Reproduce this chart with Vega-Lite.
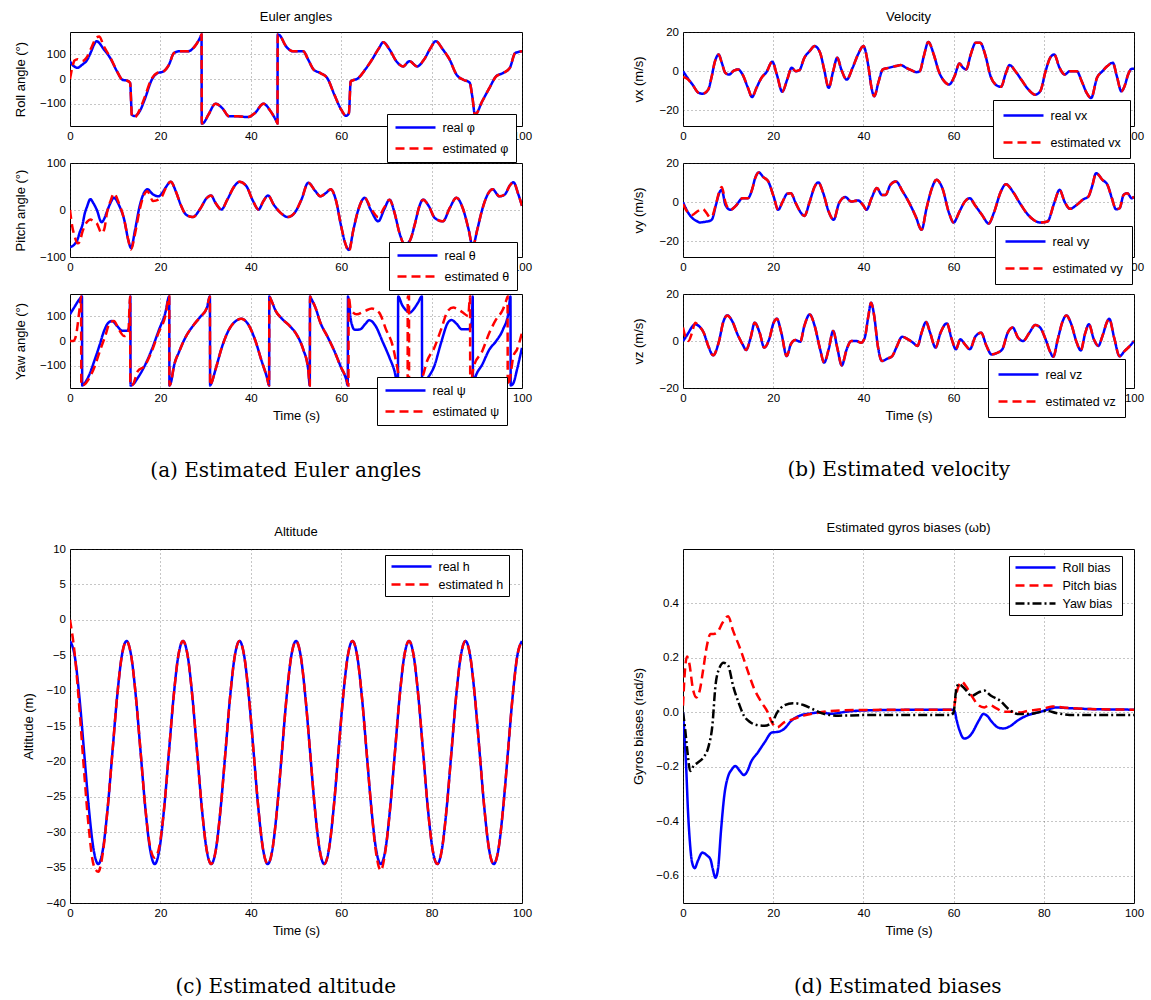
{
"$schema":"https://vega.github.io/schema/vega-lite/v6.json",
"background":"white",
"padding":{"left":13,"top":10,"right":0,"bottom":0},
"config":{
 "view":{"stroke":"black","strokeWidth":1},
 "axis":{"labelFont":"Liberation Sans","labelFontSize":11.5,"labelColor":"black","titleFont":"Liberation Sans","titleFontSize":13,"titleFontWeight":"normal","titleColor":"black","domain":false,"ticks":false,"tickSize":0,"labelPadding":4.5,"grid":true,"gridColor":"#333","gridOpacity":0.7,"gridDash":[1,3],"gridWidth":0.8,"labelFlush":false,"labelOverlap":false},
 "title":{"font":"Liberation Sans","fontSize":13,"fontWeight":"normal","color":"black"},
 "legend":{"labelFont":"Liberation Sans","labelColor":"black","labelFontSize":12.5,"strokeColor":"black","fillColor":"white","cornerRadius":0,"labelLimit":300,"symbolType":"M-1,0H7","symbolSize":100,"symbolStrokeWidth":2.5,"labelOffset":35.5}
},
"resolve":{"scale":{"color":"independent","strokeDash":"independent"},"legend":{"color":"independent","strokeDash":"independent"}},
"datasets":{
"roll":[{"t":0,"r":72,"e":0},{"t":0.5,"r":58,"e":45},{"t":1,"r":50,"e":75},{"t":1.7,"r":45,"e":80},{"t":2.5,"r":55,"e":72},{"t":3,"r":62,"e":74},{"t":3.6,"r":72,"e":85},{"t":4.7,"r":112,"e":125},{"t":5.3,"r":138,"e":150},{"t":5.9,"r":153,"e":168},{"t":6.5,"r":145,"e":172},{"t":7.4,"r":122,"e":135},{"t":8.9,"r":85,"e":88},{"t":10.4,"r":31,"e":31},{"t":11.6,"r":-3,"e":-3},{"t":12.7,"r":-7,"e":-7},{"t":13.3,"r":-16,"e":-16},{"t":13.7,"r":-145,"e":-150},{"t":14.3,"r":-150,"e":-155},{"t":15.4,"r":-131,"e":-125},{"t":16.5,"r":-84,"e":-75},{"t":18.1,"r":-3,"e":3},{"t":19.2,"r":22,"e":24},{"t":20.7,"r":31,"e":31},{"t":21.9,"r":58,"e":58},{"t":23,"r":105,"e":105},{"t":24.2,"r":112,"e":112},{"t":26.1,"r":112,"e":112},{"t":27.6,"r":132,"e":132},{"t":29.05,"r":178,"e":178},{"t":29.1,"r":180,"e":180},{"t":29.15,"r":-180,"e":-180},{"t":29.5,"r":-178,"e":-178},{"t":30.6,"r":-145,"e":-145},{"t":32.2,"r":-100,"e":-100},{"t":33.7,"r":-118,"e":-118},{"t":35.2,"r":-151,"e":-151},{"t":37.1,"r":-151,"e":-151},{"t":39.4,"r":-154,"e":-154},{"t":40.9,"r":-138,"e":-138},{"t":42.8,"r":-100,"e":-100},{"t":44.4,"r":-131,"e":-131},{"t":45.85,"r":-178,"e":-178},{"t":45.9,"r":-180,"e":-180},{"t":45.95,"r":180,"e":180},{"t":46.3,"r":178,"e":178},{"t":47.8,"r":132,"e":132},{"t":49.3,"r":112,"e":112},{"t":51.6,"r":112,"e":112},{"t":52.7,"r":78,"e":78},{"t":53.9,"r":38,"e":38},{"t":55.4,"r":24,"e":24},{"t":56.9,"r":4,"e":4},{"t":58.5,"r":-64,"e":-64},{"t":60,"r":-124,"e":-124},{"t":61.1,"r":-149,"e":-149},{"t":61.7,"r":-138,"e":-138},{"t":62.1,"r":-10,"e":-10},{"t":63.8,"r":4,"e":4},{"t":65.3,"r":38,"e":38},{"t":66.8,"r":78,"e":78},{"t":68.4,"r":126,"e":126},{"t":69.3,"r":149,"e":149},{"t":70.7,"r":119,"e":119},{"t":72.2,"r":72,"e":72},{"t":73.7,"r":51,"e":51},{"t":75.1,"r":72,"e":72},{"t":76.8,"r":51,"e":51},{"t":78.3,"r":78,"e":78},{"t":79.8,"r":126,"e":126},{"t":80.9,"r":153,"e":153},{"t":82.5,"r":119,"e":119},{"t":84,"r":78,"e":78},{"t":85.5,"r":18,"e":18},{"t":87,"r":-3,"e":-3},{"t":88.4,"r":-14,"e":-14},{"t":89,"r":-70,"e":-70},{"t":89.6,"r":-145,"e":-145},{"t":91.2,"r":-90,"e":-90},{"t":92.8,"r":-36,"e":-36},{"t":94.3,"r":11,"e":11},{"t":95.8,"r":24,"e":24},{"t":97.3,"r":45,"e":45},{"t":98.5,"r":105,"e":105},{"t":100,"r":112,"e":112}],
"pitch":[{"t":0,"r":-79,"e":0},{"t":0.5,"r":-77,"e":-35},{"t":1,"r":-73,"e":-55},{"t":1.7,"r":-62,"e":-71},{"t":2.1,"r":-49,"e":-68},{"t":2.8,"r":-30,"e":-45},{"t":3.2,"r":-10,"e":-35},{"t":3.8,"r":8,"e":-25},{"t":4.5,"r":23,"e":-20},{"t":5.2,"r":14,"e":-24},{"t":5.9,"r":1,"e":-28},{"t":7,"r":-26,"e":-49},{"t":7.6,"r":-18,"e":-40},{"t":8.2,"r":-3,"e":-5},{"t":9,"r":16,"e":20},{"t":9.7,"r":26,"e":35},{"t":10.8,"r":11,"e":15},{"t":12,"r":-21,"e":-21},{"t":12.9,"r":-64,"e":-64},{"t":13.5,"r":-81,"e":-84},{"t":14.4,"r":-42,"e":-50},{"t":15.4,"r":8,"e":0},{"t":16.2,"r":33,"e":28},{"t":17.1,"r":44,"e":40},{"t":18.4,"r":33,"e":19},{"t":19.6,"r":29,"e":22},{"t":20.3,"r":35,"e":28},{"t":21.1,"r":47,"e":45},{"t":22.3,"r":60,"e":60},{"t":23.4,"r":40,"e":40},{"t":24.5,"r":11,"e":11},{"t":25.7,"r":-10,"e":-10},{"t":27.2,"r":-15,"e":-15},{"t":28.7,"r":1,"e":1},{"t":30.3,"r":26,"e":26},{"t":31.2,"r":31,"e":31},{"t":32.2,"r":15,"e":15},{"t":33.5,"r":1,"e":1},{"t":34.8,"r":22,"e":22},{"t":36.4,"r":51,"e":51},{"t":37.5,"r":60,"e":60},{"t":39,"r":51,"e":51},{"t":40.5,"r":19,"e":19},{"t":41.7,"r":1,"e":1},{"t":42.8,"r":19,"e":19},{"t":43.8,"r":31,"e":31},{"t":45.1,"r":11,"e":11},{"t":46.6,"r":-6,"e":-6},{"t":48.2,"r":-15,"e":-15},{"t":49.7,"r":-6,"e":-6},{"t":51.2,"r":22,"e":22},{"t":52.7,"r":58,"e":58},{"t":54.3,"r":40,"e":40},{"t":55.4,"r":29,"e":29},{"t":56.6,"r":36,"e":36},{"t":57.7,"r":44,"e":44},{"t":58.8,"r":22,"e":22},{"t":60,"r":-35,"e":-35},{"t":60.9,"r":-71,"e":-71},{"t":61.7,"r":-85,"e":-88},{"t":62.7,"r":-42,"e":-42},{"t":63.8,"r":1,"e":1},{"t":65.2,"r":26,"e":26},{"t":66.5,"r":1,"e":5},{"t":68.2,"r":-24,"e":-15},{"t":69.5,"r":1,"e":5},{"t":70.7,"r":22,"e":22},{"t":71.8,"r":-6,"e":-6},{"t":72.9,"r":-49,"e":-49},{"t":74.1,"r":-74,"e":-74},{"t":75.2,"r":-65,"e":-65},{"t":76.3,"r":-30,"e":-30},{"t":77.2,"r":5,"e":5},{"t":78.1,"r":22,"e":22},{"t":79.4,"r":8,"e":8},{"t":80.7,"r":-17,"e":-17},{"t":82.5,"r":-24,"e":-24},{"t":84,"r":4,"e":4},{"t":85.5,"r":26,"e":26},{"t":87,"r":1,"e":1},{"t":88.2,"r":-42,"e":-42},{"t":89.1,"r":-78,"e":-78},{"t":90.1,"r":-42,"e":-42},{"t":91.2,"r":1,"e":1},{"t":92.4,"r":33,"e":33},{"t":93.5,"r":44,"e":44},{"t":95,"r":29,"e":29},{"t":96.2,"r":33,"e":33},{"t":97.3,"r":52,"e":52},{"t":98.1,"r":59,"e":59},{"t":99.2,"r":33,"e":33},{"t":100,"r":9,"e":9}],
"yaw":[{"t":0,"r":108},{"t":0.9,"r":135},{"t":2.1,"r":169},{"t":2.65,"r":180},{"t":2.7,"r":-180},{"t":3.2,"r":-172},{"t":4.3,"r":-135},{"t":5.5,"r":-74},{"t":6.6,"r":-14},{"t":7.4,"r":34},{"t":8.5,"r":74},{"t":9.3,"r":81},{"t":10.4,"r":61},{"t":11.6,"r":41},{"t":12.6,"r":41},{"t":13.1,"r":54},{"t":13.35,"r":180},{"t":13.4,"r":-180},{"t":13.9,"r":-176},{"t":15,"r":-149},{"t":16.5,"r":-101},{"t":18.1,"r":-34},{"t":19.6,"r":41},{"t":21.1,"r":115},
{"t":0,"e":0},{"t":0.7,"e":0},{"t":1.3,"e":20},{"t":2.1,"e":128},{"t":2.45,"e":180},{"t":2.5,"e":-180},{"t":3.2,"e":-176},{"t":4.3,"e":-149},{"t":5.5,"e":-101},{"t":6.6,"e":-41},{"t":7.8,"e":20},{"t":8.8,"e":74},{"t":9.7,"e":81},{"t":10.8,"e":47},{"t":12,"e":20},{"t":12.9,"e":34},{"t":13.3,"e":180},{"t":13.35,"e":-180},{"t":13.9,"e":-176},{"t":15,"e":-122},{"t":16.5,"e":-101},{"t":18.1,"e":-41},{"t":19.6,"e":34},{"t":21.1,"e":101},
{"t":21.95,"r":180,"e":180},{"t":22,"r":-180,"e":-180},{"t":22.3,"r":-170,"e":-170},{"t":23,"r":-101,"e":-101},{"t":24.2,"r":-41,"e":-41},{"t":25.7,"r":20,"e":20},{"t":27.2,"r":61,"e":61},{"t":28.7,"r":95,"e":95},{"t":30.3,"r":135,"e":135},{"t":30.95,"r":180,"e":180},{"t":31,"r":-180,"e":-180},{"t":31.3,"r":-170,"e":-170},{"t":32.2,"r":-115,"e":-115},{"t":33.7,"r":-20,"e":-20},{"t":35.2,"r":47,"e":47},{"t":36.7,"r":81,"e":81},{"t":37.9,"r":90,"e":90},{"t":39.4,"r":68,"e":68},{"t":40.9,"r":7,"e":7},{"t":42.4,"r":-81,"e":-81},{"t":43.6,"r":-149,"e":-149},{"t":44.05,"r":-180,"e":-180},{"t":44.1,"r":180,"e":180},{"t":44.4,"r":170,"e":170},{"t":45.5,"r":122,"e":122},{"t":47,"r":88,"e":88},{"t":48.6,"r":61,"e":61},{"t":50.1,"r":27,"e":27},{"t":51.6,"r":-34,"e":-34},{"t":52.7,"r":-115,"e":-115},{"t":53.05,"r":-180,"e":-180},{"t":53.1,"r":180,"e":180},{"t":53.4,"r":170,"e":170},{"t":54.3,"r":135,"e":135},{"t":55.4,"r":74,"e":74},{"t":56.9,"r":20,"e":20},{"t":58.5,"r":-41,"e":-41},{"t":60,"r":-108,"e":-108},
{"t":61.1,"r":-155},{"t":61.45,"r":-180},{"t":61.5,"r":180},{"t":61.7,"r":160},{"t":62.1,"r":88},{"t":63,"r":45},{"t":64.2,"r":47},{"t":65.3,"r":68},{"t":66.2,"r":84},{"t":67.6,"r":61},{"t":69.1,"r":0},{"t":70.7,"r":-68},{"t":71.8,"r":-122},{"t":72.55,"r":-180},{"t":72.6,"r":180},{"t":73.5,"r":145},{"t":74.5,"r":122},{"t":75.2,"r":115},{"t":76,"r":128},{"t":77,"r":155},{"t":77.85,"r":180},{"t":77.9,"r":-180},{"t":78.7,"r":-160},{"t":80.6,"r":-101},{"t":82.1,"r":-7},{"t":83.6,"r":74},{"t":84.4,"r":85},{"t":85.5,"r":70},{"t":86.7,"r":47},{"t":88.2,"r":47},{"t":88.9,"r":80},{"t":89.1,"r":180},{"t":89.15,"r":-180},{"t":89.7,"r":-145},{"t":91.2,"r":-95},{"t":92.8,"r":-34},{"t":94.3,"r":0},{"t":95.8,"r":47},{"t":97,"r":115},{"t":97.45,"r":180},{"t":97.5,"r":-180},{"t":98.1,"r":-170},{"t":98.9,"r":-115},{"t":100,"r":-27},
{"t":60.5,"e":-125},{"t":61.1,"e":-150},{"t":61.6,"e":-180},{"t":61.65,"e":180},{"t":62.1,"e":128},{"t":63.4,"e":108},{"t":65.3,"e":122},{"t":66.8,"e":131},{"t":68.4,"e":115},{"t":69.9,"e":47},{"t":71.4,"e":-20},{"t":72.2,"e":-88},{"t":73,"e":-155},{"t":74,"e":-172},{"t":74.7,"e":-180},{"t":74.72,"e":180},{"t":74.85,"e":176},{"t":75,"e":180},{"t":75.02,"e":-180},{"t":76,"e":-176},{"t":77,"e":-165},{"t":77.9,"e":-149},{"t":79,"e":-81},{"t":80.6,"e":-27},{"t":82.1,"e":47},{"t":83.6,"e":122},{"t":84.8,"e":135},{"t":86.7,"e":118},{"t":88.1,"e":101},{"t":88.5,"e":180},{"t":88.55,"e":-180},{"t":89.3,"e":-104},{"t":91.2,"e":-41},{"t":92.8,"e":34},{"t":94.3,"e":88},{"t":95.8,"e":128},{"t":96.6,"e":169},{"t":96.8,"e":180},{"t":96.85,"e":-180},{"t":97.3,"e":-155},{"t":98.1,"e":-61},{"t":98.9,"e":-34},{"t":100,"e":34}],
"vx":[{"t":0,"r":0,"e":-3},{"t":1,"r":-3.4,"e":-4},{"t":2.1,"r":-6.8,"e":-7},{"t":3.5,"r":-11.1,"e":-11.1},{"t":4.4,"r":-11.5,"e":-11.5},{"t":5.6,"r":-9.4,"e":-9.4},{"t":6.3,"r":-3.4,"e":-3.4},{"t":7.1,"r":5.1,"e":5.1},{"t":7.9,"r":8.5,"e":8.5},{"t":8.6,"r":4.3,"e":4.3},{"t":9.4,"r":-0.9,"e":-0.9},{"t":10.2,"r":-1.7,"e":-1.7},{"t":11.3,"r":0.3,"e":0.3},{"t":12.2,"r":0.9,"e":0.9},{"t":13.2,"r":-1.7,"e":-1.7},{"t":14.4,"r":-8.5,"e":-8.5},{"t":15.3,"r":-13.2,"e":-13.2},{"t":16.3,"r":-8.5,"e":-8.5},{"t":17.4,"r":-3.4,"e":-3.4},{"t":18.5,"r":-0.5,"e":-0.5},{"t":19.8,"r":4.8,"e":4.8},{"t":20.8,"r":-1.7,"e":-1.7},{"t":22,"r":-10.5,"e":-10.5},{"t":23.1,"r":-4.3,"e":-4.3},{"t":24.1,"r":1.7,"e":1.7},{"t":25,"r":0,"e":0},{"t":25.8,"r":0.5,"e":0.5},{"t":26.9,"r":6.8,"e":6.8},{"t":28.1,"r":10.3,"e":10.3},{"t":29.2,"r":12.8,"e":12.8},{"t":30.4,"r":9.4,"e":9.4},{"t":31.3,"r":0.9,"e":0.9},{"t":32.3,"r":-8.5,"e":-8.5},{"t":33.3,"r":0,"e":0},{"t":34.2,"r":6.8,"e":6.8},{"t":35.1,"r":0.9,"e":0.9},{"t":36.3,"r":-4.3,"e":-4.3},{"t":37.6,"r":1.7,"e":1.7},{"t":38.8,"r":8.5,"e":8.5},{"t":40,"r":12.8,"e":12.8},{"t":41.1,"r":2.6,"e":2.6},{"t":41.8,"r":-8.5,"e":-8.5},{"t":42.4,"r":-12.8,"e":-12.8},{"t":43.4,"r":-5.1,"e":-5.1},{"t":44.3,"r":0.9,"e":0.9},{"t":45.6,"r":1.7,"e":1.7},{"t":47.2,"r":2.6,"e":2.6},{"t":48.3,"r":3.1,"e":3.1},{"t":49.5,"r":1.7,"e":1.7},{"t":50.6,"r":0.5,"e":0.5},{"t":51.8,"r":-0.5,"e":-0.5},{"t":52.5,"r":0,"e":0},{"t":53.4,"r":7.7,"e":7.7},{"t":54.4,"r":14.9,"e":14.9},{"t":55.6,"r":8.5,"e":8.5},{"t":56.7,"r":0,"e":0},{"t":57.9,"r":-5.1,"e":-5.1},{"t":59,"r":-6.8,"e":-6.8},{"t":60.2,"r":-2.6,"e":-2.6},{"t":61.3,"r":3.9,"e":3.9},{"t":62.1,"r":1.7,"e":1.7},{"t":62.8,"r":0.9,"e":0.9},{"t":63.8,"r":8.5,"e":8.5},{"t":64.9,"r":14.5,"e":14.5},{"t":65.9,"r":14.5,"e":14.5},{"t":67,"r":8.5,"e":8.5},{"t":68.2,"r":-2.6,"e":-2.6},{"t":69.3,"r":-6.8,"e":-6.8},{"t":70.5,"r":-8,"e":-8},{"t":71.6,"r":-0.9,"e":-0.9},{"t":72.4,"r":3.1,"e":3.1},{"t":73.7,"r":0,"e":0},{"t":75,"r":-4.3,"e":-4.3},{"t":76.6,"r":-9.4,"e":-9.4},{"t":78.1,"r":-12,"e":-12},{"t":79.2,"r":-10.3,"e":-10.3},{"t":80.4,"r":0,"e":0},{"t":81.4,"r":6.8,"e":6.8},{"t":82.3,"r":8.5,"e":8.5},{"t":83.5,"r":1.7,"e":1.7},{"t":84.6,"r":-1.7,"e":-1.7},{"t":85.8,"r":0,"e":0},{"t":87.3,"r":0,"e":0},{"t":88.4,"r":-5.1,"e":-5.1},{"t":89.5,"r":-11.1,"e":-11.1},{"t":90.5,"r":-13.7,"e":-13.7},{"t":91.8,"r":-3.4,"e":-3.4},{"t":93,"r":0,"e":0},{"t":94.1,"r":2.6,"e":2.6},{"t":95.3,"r":4.3,"e":4.3},{"t":96.2,"r":-2.6,"e":-2.6},{"t":97.2,"r":-10.3,"e":-10.3},{"t":97.9,"r":-7.7,"e":-7.7},{"t":98.7,"r":-1.7,"e":-1.7},{"t":99.5,"r":1.2,"e":1.2},{"t":100,"r":1.2,"e":1.2}],
"vy":[{"t":0,"r":0,"e":-1},{"t":1,"r":-4.8,"e":-5},{"t":2.1,"r":-8.2,"e":-6.5},{"t":3,"r":-9.6,"e":-5},{"t":3.8,"r":-10.4,"e":-3.8},{"t":4.4,"r":-10.2,"e":-3.4},{"t":5.2,"r":-9.9,"e":-5.5},{"t":6,"r":-9.5,"e":-7.7},{"t":6.5,"r":-8.5,"e":-7},{"t":7.3,"r":-1.4,"e":-1},{"t":8.2,"r":5.5,"e":6.5},{"t":8.6,"r":6.3,"e":7.8},{"t":9.4,"r":-1.4,"e":0},{"t":10.5,"r":-3.9,"e":-3.9},{"t":11.7,"r":-1.9,"e":-1.9},{"t":13.2,"r":2,"e":2},{"t":14.4,"r":2,"e":2},{"t":15.3,"r":6.3,"e":6.3},{"t":16,"r":12.3,"e":12.3},{"t":16.8,"r":15.2,"e":15.2},{"t":17.8,"r":12.8,"e":12.8},{"t":18.9,"r":10.6,"e":10.6},{"t":20.1,"r":2.9,"e":2.9},{"t":21.1,"r":-3.9,"e":-3.9},{"t":22.1,"r":0.3,"e":0.3},{"t":23.1,"r":4.3,"e":4.3},{"t":23.9,"r":4.6,"e":4.6},{"t":25,"r":-0.5,"e":-0.5},{"t":26.2,"r":-5.6,"e":-5.6},{"t":26.9,"r":-7,"e":-7},{"t":28.1,"r":0.3,"e":0.3},{"t":29.2,"r":8,"e":8},{"t":30,"r":10.1,"e":10.1},{"t":31.1,"r":4.6,"e":4.6},{"t":32.3,"r":-4.8,"e":-4.8},{"t":33.4,"r":-9,"e":-9},{"t":34.6,"r":-0.5,"e":-0.5},{"t":36,"r":2.6,"e":2.6},{"t":37.3,"r":0.3,"e":0.3},{"t":38.8,"r":0.9,"e":0.9},{"t":39.9,"r":-1.4,"e":-1.4},{"t":40.7,"r":-3.9,"e":-3.9},{"t":41.8,"r":2,"e":2},{"t":43,"r":7.2,"e":7.2},{"t":44.1,"r":3.7,"e":3.7},{"t":44.9,"r":3.7,"e":3.7},{"t":46,"r":8.9,"e":8.9},{"t":47.2,"r":10.6,"e":10.6},{"t":48.7,"r":5.5,"e":5.5},{"t":50.2,"r":-0.5,"e":-0.5},{"t":51.6,"r":-7.3,"e":-7.3},{"t":52.9,"r":-14.1,"e":-14.1},{"t":54,"r":-3.1,"e":-3.1},{"t":55.2,"r":7.2,"e":7.2},{"t":56.2,"r":11.4,"e":11.4},{"t":57.5,"r":7.2,"e":7.2},{"t":59,"r":-5.6,"e":-5.6},{"t":60,"r":-10.4,"e":-10.4},{"t":61.3,"r":-4.8,"e":-4.8},{"t":62.5,"r":0.3,"e":0.3},{"t":63.6,"r":2,"e":2},{"t":64.7,"r":-1.4,"e":-1.4},{"t":66.3,"r":-6.5,"e":-6.5},{"t":67.8,"r":-10.9,"e":-10.9},{"t":68.9,"r":-5.6,"e":-5.6},{"t":70.5,"r":5.5,"e":5.5},{"t":71.6,"r":9.2,"e":9.2},{"t":73.1,"r":5.5,"e":5.5},{"t":74.7,"r":-0.5,"e":-0.5},{"t":76.2,"r":-5.6,"e":-5.6},{"t":77.7,"r":-9,"e":-9},{"t":79.2,"r":-10.4,"e":-10.4},{"t":80.8,"r":-9.9,"e":-9.9},{"t":82.3,"r":-0.5,"e":-0.5},{"t":83.5,"r":6.3,"e":6.3},{"t":84.6,"r":0.3,"e":0.3},{"t":85.8,"r":-3.4,"e":-3.4},{"t":87.3,"r":-1.4,"e":-1.4},{"t":88.8,"r":1.5,"e":1.5},{"t":89.9,"r":2.9,"e":2.9},{"t":90.7,"r":8,"e":8},{"t":91.6,"r":14.8,"e":14.8},{"t":93,"r":11.4,"e":11.4},{"t":94.1,"r":8.9,"e":8.9},{"t":95.1,"r":2,"e":2},{"t":96,"r":-3.6,"e":-3.6},{"t":96.8,"r":-3.1,"e":-3.1},{"t":97.7,"r":3.7,"e":3.7},{"t":98.5,"r":4.6,"e":4.6},{"t":99.5,"r":2,"e":2},{"t":100,"r":2.9,"e":2.9}],
"vz":[{"t":0,"r":0,"e":5.7},{"t":0.6,"r":1.6,"e":1.4},{"t":1.2,"r":3.5,"e":0},{"t":2,"r":6,"e":3.5},{"t":2.7,"r":7.1,"e":7.8},{"t":3.5,"r":6.4,"e":6.4},{"t":4.6,"r":3.5,"e":3.5},{"t":5.6,"r":-2.1,"e":-2.1},{"t":6.7,"r":-6.1,"e":-6.1},{"t":7.9,"r":-0.7,"e":-0.7},{"t":9,"r":8.5,"e":8.5},{"t":9.8,"r":10.9,"e":10.9},{"t":10.9,"r":8.5,"e":8.5},{"t":12.1,"r":2.8,"e":2.8},{"t":13.2,"r":-1.4,"e":-1.4},{"t":14,"r":-3.8,"e":-3.8},{"t":15,"r":1.4,"e":1.4},{"t":15.9,"r":7.8,"e":7.8},{"t":17,"r":3.5,"e":3.5},{"t":18,"r":-2.8,"e":-2.8},{"t":19.1,"r":0.7,"e":0.7},{"t":20.1,"r":7.8,"e":7.8},{"t":20.8,"r":9.5,"e":9.5},{"t":21.8,"r":3.5,"e":3.5},{"t":23,"r":-6.4,"e":-6.4},{"t":23.9,"r":-1.4,"e":-1.4},{"t":24.9,"r":0.4,"e":0.4},{"t":26,"r":-0.3,"e":-0.3},{"t":26.9,"r":6.4,"e":6.4},{"t":28.1,"r":11.3,"e":11.3},{"t":29.2,"r":6.4,"e":6.4},{"t":30.4,"r":-3.5,"e":-3.5},{"t":31.3,"r":-9.2,"e":-9.2},{"t":32.3,"r":-3.5,"e":-3.5},{"t":33.3,"r":4.3,"e":4.3},{"t":34.2,"r":-2.8,"e":-2.8},{"t":35.2,"r":-10.4,"e":-10.4},{"t":36.3,"r":-3.5,"e":-3.5},{"t":37.3,"r":0,"e":0},{"t":38.4,"r":0,"e":0},{"t":39.5,"r":-0.7,"e":-0.7},{"t":40.3,"r":1.4,"e":1.4},{"t":41.1,"r":10.6,"e":10.6},{"t":41.7,"r":16.3,"e":16.3},{"t":42.4,"r":10.6,"e":10.6},{"t":43.2,"r":-2.1,"e":-2.1},{"t":44.1,"r":-8.5,"e":-8.5},{"t":45.3,"r":-7.5,"e":-7.5},{"t":46.4,"r":-6.4,"e":-6.4},{"t":47.3,"r":-2.8,"e":-2.8},{"t":48.6,"r":1.8,"e":1.8},{"t":49.9,"r":0.7,"e":0.7},{"t":51,"r":-0.7,"e":-0.7},{"t":52,"r":-2.1,"e":-2.1},{"t":52.9,"r":3.5,"e":3.5},{"t":53.9,"r":8.1,"e":8.1},{"t":54.8,"r":3.5,"e":3.5},{"t":56,"r":-2.8,"e":-2.8},{"t":57.1,"r":3.5,"e":3.5},{"t":58.5,"r":7.5,"e":7.5},{"t":59.6,"r":0.7,"e":0.7},{"t":60.5,"r":-3.5,"e":-3.5},{"t":61.5,"r":0.7,"e":0.7},{"t":62.5,"r":-1.4,"e":-1.4},{"t":63.6,"r":-3.5,"e":-3.5},{"t":64.9,"r":2.1,"e":2.1},{"t":66.1,"r":3.5,"e":3.5},{"t":67.3,"r":-2.1,"e":-2.1},{"t":68.4,"r":-5.7,"e":-5.7},{"t":69.7,"r":-5,"e":-5},{"t":70.8,"r":-3.5,"e":-3.5},{"t":72,"r":3.5,"e":3.5},{"t":73.1,"r":5.7,"e":5.7},{"t":74.3,"r":1.4,"e":1.4},{"t":75.4,"r":0,"e":0},{"t":76.8,"r":3.5,"e":3.5},{"t":78.1,"r":6.8,"e":6.8},{"t":79.2,"r":5.7,"e":5.7},{"t":80.4,"r":0.7,"e":0.7},{"t":81.5,"r":-5,"e":-5},{"t":82.1,"r":-6.7,"e":-6.7},{"t":83.1,"r":0.7,"e":0.7},{"t":84.2,"r":8.5,"e":8.5},{"t":85,"r":10.9,"e":10.9},{"t":86.1,"r":7.1,"e":7.1},{"t":87.3,"r":-0.7,"e":-0.7},{"t":88.2,"r":-4,"e":-4},{"t":89.2,"r":3.5,"e":3.5},{"t":90,"r":7.1,"e":7.1},{"t":91.1,"r":0.7,"e":0.7},{"t":92.1,"r":-2.1,"e":-2.1},{"t":93,"r":2.1,"e":2.1},{"t":94.1,"r":8.5,"e":8.5},{"t":94.5,"r":9.5,"e":9.5},{"t":95.6,"r":1.4,"e":1.4},{"t":96.8,"r":-6.5,"e":-6.5},{"t":97.9,"r":-4.3,"e":-4.3},{"t":99.1,"r":-2.1,"e":-2.1},{"t":100,"r":0,"e":0}],
"alt":[{"t":0,"r":-3,"e":0},{"t":1.04,"r":-5.1,"e":-4.8},{"t":2.08,"r":-10.9,"e":-12.5},{"t":3.13,"r":-18.75,"e":-21.5},{"t":4.17,"r":-26.6,"e":-29.5},{"t":5.21,"r":-32.4,"e":-34.6},{"t":6.25,"r":-34.5,"e":-35.6},{"t":7.29,"r":-32.4,"e":-32.8},{"t":8.33,"r":-26.6,"e":-26.6},{"t":9.38,"r":-18.75,"e":-18.75},{"t":10.42,"r":-10.9,"e":-10.9},{"t":11.46,"r":-5.1,"e":-5.1},{"t":12.5,"r":-3,"e":-3},{"t":13.54,"r":-5.1,"e":-5.1},{"t":14.58,"r":-10.9,"e":-10.9},{"t":15.63,"r":-18.75,"e":-18.75},{"t":16.67,"r":-26.6,"e":-26.6},{"t":17.71,"r":-32.4,"e":-32},{"t":18.75,"r":-34.5,"e":-33.6},{"t":19.79,"r":-32.4,"e":-31.9},{"t":20.83,"r":-26.6,"e":-26.6},{"t":21.88,"r":-18.75,"e":-18.75},{"t":22.92,"r":-10.9,"e":-10.9},{"t":23.96,"r":-5.1,"e":-5.1},{"t":25,"r":-3,"e":-3},{"t":26.04,"r":-5.1,"e":-5.1},{"t":27.08,"r":-10.9,"e":-10.9},{"t":28.13,"r":-18.75,"e":-18.75},{"t":29.17,"r":-26.6,"e":-26.6},{"t":30.21,"r":-32.4,"e":-32.4},{"t":31.25,"r":-34.5,"e":-34.5},{"t":32.29,"r":-32.4,"e":-32.4},{"t":33.33,"r":-26.6,"e":-26.6},{"t":34.38,"r":-18.75,"e":-18.75},{"t":35.42,"r":-10.9,"e":-10.9},{"t":36.46,"r":-5.1,"e":-5.1},{"t":37.5,"r":-3,"e":-3},{"t":38.54,"r":-5.1,"e":-5.1},{"t":39.58,"r":-10.9,"e":-10.9},{"t":40.63,"r":-18.75,"e":-18.75},{"t":41.67,"r":-26.6,"e":-26.6},{"t":42.71,"r":-32.4,"e":-32.4},{"t":43.75,"r":-34.5,"e":-34.5},{"t":44.79,"r":-32.4,"e":-32.4},{"t":45.83,"r":-26.6,"e":-26.6},{"t":46.88,"r":-18.75,"e":-18.75},{"t":47.92,"r":-10.9,"e":-10.9},{"t":48.96,"r":-5.1,"e":-5.1},{"t":50,"r":-3,"e":-3},{"t":51.04,"r":-5.1,"e":-5.1},{"t":52.08,"r":-10.9,"e":-10.9},{"t":53.13,"r":-18.75,"e":-18.75},{"t":54.17,"r":-26.6,"e":-26.6},{"t":55.21,"r":-32.4,"e":-32.4},{"t":56.25,"r":-34.5,"e":-34.5},{"t":57.29,"r":-32.4,"e":-32.4},{"t":58.33,"r":-26.6,"e":-26.6},{"t":59.38,"r":-18.75,"e":-18.75},{"t":60.42,"r":-10.9,"e":-10.9},{"t":61.46,"r":-5.1,"e":-5.1},{"t":62.5,"r":-3,"e":-3},{"t":63.54,"r":-5.1,"e":-5.1},{"t":64.58,"r":-10.9,"e":-10.9},{"t":65.63,"r":-18.75,"e":-18.75},{"t":66.67,"r":-26.6,"e":-26.6},{"t":67.71,"r":-32.4,"e":-32.9},{"t":68.75,"r":-34.5,"e":-35.4},{"t":69.79,"r":-32.4,"e":-32.6},{"t":70.83,"r":-26.6,"e":-26.6},{"t":71.88,"r":-18.75,"e":-18.75},{"t":72.92,"r":-10.9,"e":-10.9},{"t":73.96,"r":-5.1,"e":-5.1},{"t":75,"r":-3,"e":-3},{"t":76.04,"r":-5.1,"e":-5.1},{"t":77.08,"r":-10.9,"e":-10.9},{"t":78.13,"r":-18.75,"e":-18.75},{"t":79.17,"r":-26.6,"e":-26.6},{"t":80.21,"r":-32.4,"e":-32.4},{"t":81.25,"r":-34.5,"e":-34.5},{"t":82.29,"r":-32.4,"e":-32.4},{"t":83.33,"r":-26.6,"e":-26.6},{"t":84.38,"r":-18.75,"e":-18.75},{"t":85.42,"r":-10.9,"e":-10.9},{"t":86.46,"r":-5.1,"e":-5.1},{"t":87.5,"r":-3,"e":-3},{"t":88.54,"r":-5.1,"e":-5.1},{"t":89.58,"r":-10.9,"e":-10.9},{"t":90.63,"r":-18.75,"e":-18.75},{"t":91.67,"r":-26.6,"e":-26.6},{"t":92.71,"r":-32.4,"e":-32.4},{"t":93.75,"r":-34.5,"e":-34.5},{"t":94.79,"r":-32.4,"e":-32.4},{"t":95.83,"r":-26.6,"e":-26.6},{"t":96.88,"r":-18.75,"e":-18.75},{"t":97.92,"r":-10.9,"e":-10.9},{"t":98.96,"r":-5.1,"e":-5.1},{"t":100,"r":-3,"e":-3}],
"bias":[{"t":0,"v":0,"s":"Roll bias"},{"t":0.3,"v":-0.08,"s":"Roll bias"},{"t":0.7,"v":-0.2,"s":"Roll bias"},{"t":1.1,"v":-0.36,"s":"Roll bias"},{"t":1.5,"v":-0.47,"s":"Roll bias"},{"t":2,"v":-0.55,"s":"Roll bias"},{"t":2.6,"v":-0.572,"s":"Roll bias"},{"t":3.3,"v":-0.545,"s":"Roll bias"},{"t":4.3,"v":-0.515,"s":"Roll bias"},{"t":5.3,"v":-0.525,"s":"Roll bias"},{"t":6.1,"v":-0.54,"s":"Roll bias"},{"t":6.6,"v":-0.575,"s":"Roll bias"},{"t":7.2,"v":-0.607,"s":"Roll bias"},{"t":7.8,"v":-0.57,"s":"Roll bias"},{"t":8.4,"v":-0.44,"s":"Roll bias"},{"t":9.2,"v":-0.3,"s":"Roll bias"},{"t":10,"v":-0.235,"s":"Roll bias"},{"t":10.8,"v":-0.21,"s":"Roll bias"},{"t":11.6,"v":-0.197,"s":"Roll bias"},{"t":12.6,"v":-0.215,"s":"Roll bias"},{"t":13.5,"v":-0.23,"s":"Roll bias"},{"t":14.3,"v":-0.215,"s":"Roll bias"},{"t":15,"v":-0.185,"s":"Roll bias"},{"t":16.6,"v":-0.147,"s":"Roll bias"},{"t":18.1,"v":-0.11,"s":"Roll bias"},{"t":19.7,"v":-0.074,"s":"Roll bias"},{"t":21.2,"v":-0.071,"s":"Roll bias"},{"t":22.4,"v":-0.061,"s":"Roll bias"},{"t":24,"v":-0.031,"s":"Roll bias"},{"t":25.9,"v":-0.012,"s":"Roll bias"},{"t":28.2,"v":-0.004,"s":"Roll bias"},{"t":30.6,"v":0,"s":"Roll bias"},{"t":32.9,"v":-0.005,"s":"Roll bias"},{"t":36,"v":0.002,"s":"Roll bias"},{"t":39.9,"v":0.007,"s":"Roll bias"},{"t":47.7,"v":0.009,"s":"Roll bias"},{"t":59.8,"v":0.01,"s":"Roll bias"},{"t":60.2,"v":0.005,"s":"Roll bias"},{"t":60.7,"v":-0.03,"s":"Roll bias"},{"t":61.3,"v":-0.065,"s":"Roll bias"},{"t":62.3,"v":-0.096,"s":"Roll bias"},{"t":63.2,"v":-0.092,"s":"Roll bias"},{"t":64,"v":-0.078,"s":"Roll bias"},{"t":65.6,"v":-0.03,"s":"Roll bias"},{"t":66.6,"v":-0.006,"s":"Roll bias"},{"t":67.4,"v":-0.012,"s":"Roll bias"},{"t":68.5,"v":-0.035,"s":"Roll bias"},{"t":69.8,"v":-0.055,"s":"Roll bias"},{"t":71,"v":-0.059,"s":"Roll bias"},{"t":72.6,"v":-0.05,"s":"Roll bias"},{"t":74.2,"v":-0.03,"s":"Roll bias"},{"t":76.5,"v":-0.01,"s":"Roll bias"},{"t":78.8,"v":0,"s":"Roll bias"},{"t":81.2,"v":0.012,"s":"Roll bias"},{"t":82.7,"v":0.018,"s":"Roll bias"},{"t":85,"v":0.016,"s":"Roll bias"},{"t":90.5,"v":0.012,"s":"Roll bias"},{"t":100,"v":0.01,"s":"Roll bias"},
{"t":0,"v":0.025,"s":"Pitch bias"},{"t":0.4,"v":0.147,"s":"Pitch bias"},{"t":0.9,"v":0.205,"s":"Pitch bias"},{"t":1.4,"v":0.18,"s":"Pitch bias"},{"t":2.2,"v":0.086,"s":"Pitch bias"},{"t":3,"v":0.055,"s":"Pitch bias"},{"t":3.7,"v":0.08,"s":"Pitch bias"},{"t":4.5,"v":0.16,"s":"Pitch bias"},{"t":5.3,"v":0.245,"s":"Pitch bias"},{"t":6.1,"v":0.288,"s":"Pitch bias"},{"t":6.8,"v":0.288,"s":"Pitch bias"},{"t":7.6,"v":0.294,"s":"Pitch bias"},{"t":8.8,"v":0.33,"s":"Pitch bias"},{"t":10,"v":0.353,"s":"Pitch bias"},{"t":11.1,"v":0.3,"s":"Pitch bias"},{"t":12.7,"v":0.233,"s":"Pitch bias"},{"t":14.2,"v":0.16,"s":"Pitch bias"},{"t":15.8,"v":0.086,"s":"Pitch bias"},{"t":17.4,"v":0.037,"s":"Pitch bias"},{"t":18.8,"v":0,"s":"Pitch bias"},{"t":19.7,"v":-0.037,"s":"Pitch bias"},{"t":20.9,"v":-0.055,"s":"Pitch bias"},{"t":22.4,"v":-0.037,"s":"Pitch bias"},{"t":24.4,"v":-0.025,"s":"Pitch bias"},{"t":26.7,"v":-0.012,"s":"Pitch bias"},{"t":29,"v":-0.004,"s":"Pitch bias"},{"t":32.1,"v":0.004,"s":"Pitch bias"},{"t":39.9,"v":0.009,"s":"Pitch bias"},{"t":59.4,"v":0.01,"s":"Pitch bias"},{"t":60,"v":0.012,"s":"Pitch bias"},{"t":60.5,"v":0.061,"s":"Pitch bias"},{"t":61.3,"v":0.104,"s":"Pitch bias"},{"t":61.7,"v":0.113,"s":"Pitch bias"},{"t":62.9,"v":0.092,"s":"Pitch bias"},{"t":64,"v":0.061,"s":"Pitch bias"},{"t":65.6,"v":0.025,"s":"Pitch bias"},{"t":66.8,"v":0.018,"s":"Pitch bias"},{"t":67.9,"v":0.027,"s":"Pitch bias"},{"t":69.5,"v":0.015,"s":"Pitch bias"},{"t":71,"v":0.002,"s":"Pitch bias"},{"t":73,"v":0.002,"s":"Pitch bias"},{"t":74.9,"v":0,"s":"Pitch bias"},{"t":76.5,"v":0.006,"s":"Pitch bias"},{"t":79.6,"v":0.012,"s":"Pitch bias"},{"t":81.9,"v":0.022,"s":"Pitch bias"},{"t":84.2,"v":0.018,"s":"Pitch bias"},{"t":90.5,"v":0.012,"s":"Pitch bias"},{"t":100,"v":0.01,"s":"Pitch bias"},
{"t":0,"v":0,"s":"Yaw bias"},{"t":0.4,"v":-0.05,"s":"Yaw bias"},{"t":1,"v":-0.147,"s":"Yaw bias"},{"t":1.6,"v":-0.215,"s":"Yaw bias"},{"t":2.4,"v":-0.196,"s":"Yaw bias"},{"t":3.3,"v":-0.184,"s":"Yaw bias"},{"t":4.5,"v":-0.166,"s":"Yaw bias"},{"t":5.7,"v":-0.123,"s":"Yaw bias"},{"t":6.5,"v":-0.05,"s":"Yaw bias"},{"t":7.2,"v":0.098,"s":"Yaw bias"},{"t":8,"v":0.16,"s":"Yaw bias"},{"t":9,"v":0.182,"s":"Yaw bias"},{"t":10,"v":0.172,"s":"Yaw bias"},{"t":11.1,"v":0.098,"s":"Yaw bias"},{"t":12.3,"v":0.037,"s":"Yaw bias"},{"t":13.5,"v":-0.012,"s":"Yaw bias"},{"t":15,"v":-0.037,"s":"Yaw bias"},{"t":16.6,"v":-0.047,"s":"Yaw bias"},{"t":18.1,"v":-0.049,"s":"Yaw bias"},{"t":19.7,"v":-0.037,"s":"Yaw bias"},{"t":20.9,"v":0,"s":"Yaw bias"},{"t":22.4,"v":0.025,"s":"Yaw bias"},{"t":24.4,"v":0.034,"s":"Yaw bias"},{"t":26.7,"v":0.027,"s":"Yaw bias"},{"t":29,"v":0.01,"s":"Yaw bias"},{"t":31.4,"v":-0.006,"s":"Yaw bias"},{"t":34.5,"v":-0.012,"s":"Yaw bias"},{"t":39.9,"v":-0.01,"s":"Yaw bias"},{"t":59.4,"v":-0.01,"s":"Yaw bias"},{"t":60,"v":0,"s":"Yaw bias"},{"t":60.5,"v":0.074,"s":"Yaw bias"},{"t":61.1,"v":0.104,"s":"Yaw bias"},{"t":62.5,"v":0.086,"s":"Yaw bias"},{"t":64,"v":0.061,"s":"Yaw bias"},{"t":65.6,"v":0.074,"s":"Yaw bias"},{"t":66.8,"v":0.08,"s":"Yaw bias"},{"t":68.3,"v":0.061,"s":"Yaw bias"},{"t":70.3,"v":0.043,"s":"Yaw bias"},{"t":72.2,"v":0.012,"s":"Yaw bias"},{"t":74.2,"v":-0.006,"s":"Yaw bias"},{"t":76.5,"v":-0.006,"s":"Yaw bias"},{"t":78.8,"v":0,"s":"Yaw bias"},{"t":80.7,"v":0.006,"s":"Yaw bias"},{"t":82.7,"v":-0.002,"s":"Yaw bias"},{"t":86.6,"v":-0.01,"s":"Yaw bias"},{"t":100,"v":-0.01,"s":"Yaw bias"}]
},
"spacing":40,
"vconcat":[
{"hconcat":[
 {"vconcat":[
  {"width":452,"height":94,"title":{"text":"Euler angles","offset":8,"frame":"group"},
   "data":{"name":"roll"},
   "transform":[{"fold":["r","e"],"as":["s","v"]},{"filter":"isValid(datum.v)"}],
   "mark":{"type":"line","strokeWidth":2.5,"interpolate":"monotone","clip":true},
   "encoding":{
    "x":{"field":"t","type":"quantitative","scale":{"domain":[0,100],"nice":false,"zero":false},"axis":{"values":[0,20,40,60,80,100],"title":null}},
    "y":{"field":"v","type":"quantitative","scale":{"domain":[-190,190],"nice":false,"zero":false},"axis":{"values":[-100,0,100],"title":"Roll angle (°)","minExtent":37,"maxExtent":37,"titlePadding":6}},
    "color":{"field":"s","type":"nominal","scale":{"domain":["r","e"],"range":["#0000ff","#ff0000"]},"legend":{"title":null,"orient":"none","legendX":317,"legendY":82,"padding":7,"rowPadding":8,"labelExpr":"datum.label=='r'?'real φ':'estimated φ'"}},
    "strokeDash":{"field":"s","type":"nominal","scale":{"domain":["r","e"],"range":[[1,0],[9,5]]},"legend":{"title":null,"orient":"none","legendX":317,"legendY":82,"padding":7,"rowPadding":8,"labelExpr":"datum.label=='r'?'real φ':'estimated φ'"}}
   }},
  {"width":452,"height":94,
   "data":{"name":"pitch"},
   "transform":[{"fold":["r","e"],"as":["s","v"]},{"filter":"isValid(datum.v)"}],
   "mark":{"type":"line","strokeWidth":2.5,"interpolate":"monotone","clip":true},
   "encoding":{
    "x":{"field":"t","type":"quantitative","scale":{"domain":[0,100],"nice":false,"zero":false},"axis":{"values":[0,20,40,60,80,100],"title":null}},
    "y":{"field":"v","type":"quantitative","scale":{"domain":[-100,100],"nice":false,"zero":false},"axis":{"values":[-100,0,100],"title":"Pitch angle (°)","minExtent":37,"maxExtent":37,"titlePadding":6}},
    "color":{"field":"s","type":"nominal","scale":{"domain":["r","e"],"range":["#0000ff","#ff0000"]},"legend":{"title":null,"orient":"none","legendX":319,"legendY":79,"padding":7,"rowPadding":8,"labelExpr":"datum.label=='r'?'real θ':'estimated θ'"}},
    "strokeDash":{"field":"s","type":"nominal","scale":{"domain":["r","e"],"range":[[1,0],[9,5]]},"legend":{"title":null,"orient":"none","legendX":319,"legendY":79,"padding":7,"rowPadding":8,"labelExpr":"datum.label=='r'?'real θ':'estimated θ'"}}
   }},
  {"width":452,"height":94,
   "data":{"name":"yaw"},
   "transform":[{"fold":["r","e"],"as":["s","v"]},{"filter":"isValid(datum.v)"}],
   "mark":{"type":"line","strokeWidth":2.5,"interpolate":"monotone","clip":true},
   "encoding":{
    "x":{"field":"t","type":"quantitative","scale":{"domain":[0,100],"nice":false,"zero":false},"axis":{"values":[0,20,40,60,80,100],"title":"Time (s)","titlePadding":5}},
    "y":{"field":"v","type":"quantitative","scale":{"domain":[-190,190],"nice":false,"zero":false},"axis":{"values":[-100,0,100],"title":"Yaw angle (°)","minExtent":37,"maxExtent":37,"titlePadding":6}},
    "color":{"field":"s","type":"nominal","scale":{"domain":["r","e"],"range":["#0000ff","#ff0000"]},"legend":{"title":null,"orient":"none","legendX":307,"legendY":83,"padding":7,"rowPadding":8,"labelExpr":"datum.label=='r'?'real ψ':'estimated ψ'"}},
    "strokeDash":{"field":"s","type":"nominal","scale":{"domain":["r","e"],"range":[[1,0],[9,5]]},"legend":{"title":null,"orient":"none","legendX":307,"legendY":83,"padding":7,"rowPadding":8,"labelExpr":"datum.label=='r'?'real ψ':'estimated ψ'"}}
   }}
 ],"spacing":37,"bounds":"flush",
 "resolve":{"scale":{"color":"independent","strokeDash":"independent"},"legend":{"color":"independent","strokeDash":"independent"}},
 "title":{"text":"(a) Estimated Euler angles","orient":"bottom","anchor":"middle","offset":35,"font":"DejaVu Serif","fontSize":20,"fontWeight":"normal","dx":13}},
 {"vconcat":[
  {"width":451,"height":94,"title":{"text":"Velocity","offset":2,"frame":"group"},
   "data":{"name":"vx"},
   "transform":[{"fold":["r","e"],"as":["s","v"]},{"filter":"isValid(datum.v)"}],
   "mark":{"type":"line","strokeWidth":2.5,"interpolate":"monotone","clip":true},
   "encoding":{
    "x":{"field":"t","type":"quantitative","scale":{"domain":[0,100],"nice":false,"zero":false},"axis":{"values":[0,20,40,60,80,100],"title":null}},
    "y":{"field":"v","type":"quantitative","scale":{"domain":[-28,20],"nice":false,"zero":false},"axis":{"values":[-20,0,20],"title":"vx (m/s)","minExtent":31,"maxExtent":31,"titlePadding":7}},
    "color":{"field":"s","type":"nominal","scale":{"domain":["r","e"],"range":["#0000ff","#ff0000"]},"legend":{"title":null,"orient":"none","legendX":310,"legendY":68,"padding":9,"rowPadding":14,"labelExpr":"datum.label=='r'?'real vx':'estimated vx'"}},
    "strokeDash":{"field":"s","type":"nominal","scale":{"domain":["r","e"],"range":[[1,0],[9,5]]},"legend":{"title":null,"orient":"none","legendX":310,"legendY":68,"padding":9,"rowPadding":14,"labelExpr":"datum.label=='r'?'real vx':'estimated vx'"}}
   }},
  {"width":451,"height":94,
   "data":{"name":"vy"},
   "transform":[{"fold":["r","e"],"as":["s","v"]},{"filter":"isValid(datum.v)"}],
   "mark":{"type":"line","strokeWidth":2.5,"interpolate":"monotone","clip":true},
   "encoding":{
    "x":{"field":"t","type":"quantitative","scale":{"domain":[0,100],"nice":false,"zero":false},"axis":{"values":[0,20,40,60,80,100],"title":null}},
    "y":{"field":"v","type":"quantitative","scale":{"domain":[-28,20],"nice":false,"zero":false},"axis":{"values":[-20,0,20],"title":"vy (m/s)","minExtent":31,"maxExtent":31,"titlePadding":7}},
    "color":{"field":"s","type":"nominal","scale":{"domain":["r","e"],"range":["#0000ff","#ff0000"]},"legend":{"title":null,"orient":"none","legendX":312,"legendY":63,"padding":9,"rowPadding":14,"labelExpr":"datum.label=='r'?'real vy':'estimated vy'"}},
    "strokeDash":{"field":"s","type":"nominal","scale":{"domain":["r","e"],"range":[[1,0],[9,5]]},"legend":{"title":null,"orient":"none","legendX":312,"legendY":63,"padding":9,"rowPadding":14,"labelExpr":"datum.label=='r'?'real vy':'estimated vy'"}}
   }},
  {"width":451,"height":94,
   "data":{"name":"vz"},
   "transform":[{"fold":["r","e"],"as":["s","v"]},{"filter":"isValid(datum.v)"}],
   "mark":{"type":"line","strokeWidth":2.5,"interpolate":"monotone","clip":true},
   "encoding":{
    "x":{"field":"t","type":"quantitative","scale":{"domain":[0,100],"nice":false,"zero":false},"axis":{"values":[0,20,40,60,80,100],"title":"Time (s)","titlePadding":5}},
    "y":{"field":"v","type":"quantitative","scale":{"domain":[-20,20],"nice":false,"zero":false},"axis":{"values":[-20,0,20],"title":"vz (m/s)","minExtent":31,"maxExtent":31,"titlePadding":7}},
    "color":{"field":"s","type":"nominal","scale":{"domain":["r","e"],"range":["#0000ff","#ff0000"]},"legend":{"title":null,"orient":"none","legendX":305,"legendY":65,"padding":9,"rowPadding":14,"labelExpr":"datum.label=='r'?'real vz':'estimated vz'"}},
    "strokeDash":{"field":"s","type":"nominal","scale":{"domain":["r","e"],"range":[[1,0],[9,5]]},"legend":{"title":null,"orient":"none","legendX":305,"legendY":65,"padding":9,"rowPadding":14,"labelExpr":"datum.label=='r'?'real vz':'estimated vz'"}}
   }}
 ],"spacing":37,"bounds":"flush",
 "resolve":{"scale":{"color":"independent","strokeDash":"independent"},"legend":{"color":"independent","strokeDash":"independent"}},
 "title":{"text":"(b) Estimated velocity","orient":"bottom","anchor":"middle","offset":37,"font":"DejaVu Serif","fontSize":20,"fontWeight":"normal","dx":11}}
],"spacing":98,
"resolve":{"scale":{"color":"independent","strokeDash":"independent"},"legend":{"color":"independent","strokeDash":"independent"}}},
{"hconcat":[
 {"vconcat":[
  {"width":452,"height":354,"title":{"text":"Altitude","offset":4,"frame":"group"},
   "data":{"name":"alt"},
   "transform":[{"fold":["r","e"],"as":["s","v"]},{"filter":"isValid(datum.v)"}],
   "mark":{"type":"line","strokeWidth":2.5,"interpolate":"monotone","clip":true},
   "encoding":{
    "x":{"field":"t","type":"quantitative","scale":{"domain":[0,100],"nice":false,"zero":false},"axis":{"values":[0,20,40,60,80,100],"title":"Time (s)","titlePadding":5}},
    "y":{"field":"v","type":"quantitative","scale":{"domain":[-40,10],"nice":false,"zero":false},"axis":{"values":[-40,-35,-30,-25,-20,-15,-10,-5,0,5,10],"title":["","Altitude (m)"],"titleLineHeight":8,"minExtent":31,"maxExtent":31,"titlePadding":4}},
    "color":{"field":"s","type":"nominal","scale":{"domain":["r","e"],"range":["#0000ff","#ff0000"]},"legend":{"title":null,"orient":"none","legendX":315,"legendY":6,"padding":5,"rowPadding":5,"labelExpr":"datum.label=='r'?'real h':'estimated h'"}},
    "strokeDash":{"field":"s","type":"nominal","scale":{"domain":["r","e"],"range":[[1,0],[9,5]]},"legend":{"title":null,"orient":"none","legendX":315,"legendY":6,"padding":5,"rowPadding":5,"labelExpr":"datum.label=='r'?'real h':'estimated h'"}}
   }}
 ],
 "resolve":{"scale":{"color":"independent","strokeDash":"independent"},"legend":{"color":"independent","strokeDash":"independent"}},
 "title":{"text":"(c) Estimated altitude","orient":"bottom","anchor":"middle","offset":39,"font":"DejaVu Serif","fontSize":20,"fontWeight":"normal","dx":13}},
 {"vconcat":[
  {"width":451,"height":354,"title":{"text":"Estimated gyros biases (ωb)","offset":14,"frame":"group"},
   "data":{"name":"bias"},
   "mark":{"type":"line","strokeWidth":2.5,"interpolate":"monotone","clip":true},
   "encoding":{
    "x":{"field":"t","type":"quantitative","scale":{"domain":[0,100],"nice":false,"zero":false},"axis":{"values":[0,20,40,60,80,100],"title":"Time (s)","titlePadding":5}},
    "y":{"field":"v","type":"quantitative","scale":{"domain":[-0.7,0.6],"nice":false,"zero":false},"axis":{"values":[-0.6,-0.4,-0.2,0,0.2,0.4],"title":"Gyros biases (rad/s)","minExtent":31,"maxExtent":31,"titlePadding":7}},
    "color":{"field":"s","type":"nominal","scale":{"domain":["Roll bias","Pitch bias","Yaw bias"],"range":["#0000ff","#ff0000","#000000"]},"legend":{"title":null,"orient":"none","legendX":326,"legendY":7,"padding":5,"rowPadding":5}},
    "strokeDash":{"field":"s","type":"nominal","scale":{"domain":["Roll bias","Pitch bias","Yaw bias"],"range":[[1,0],[9,5],[9,3,2,3]]},"legend":{"title":null,"orient":"none","legendX":326,"legendY":7,"padding":5,"rowPadding":5}}
   }}
 ],
 "resolve":{"scale":{"color":"independent","strokeDash":"independent"},"legend":{"color":"independent","strokeDash":"independent"}},
 "title":{"text":"(d) Estimated biases","orient":"bottom","anchor":"middle","offset":39,"font":"DejaVu Serif","fontSize":20,"fontWeight":"normal","dx":10}}
],"spacing":98,
"resolve":{"scale":{"color":"independent","strokeDash":"independent"},"legend":{"color":"independent","strokeDash":"independent"}}}
]
}
